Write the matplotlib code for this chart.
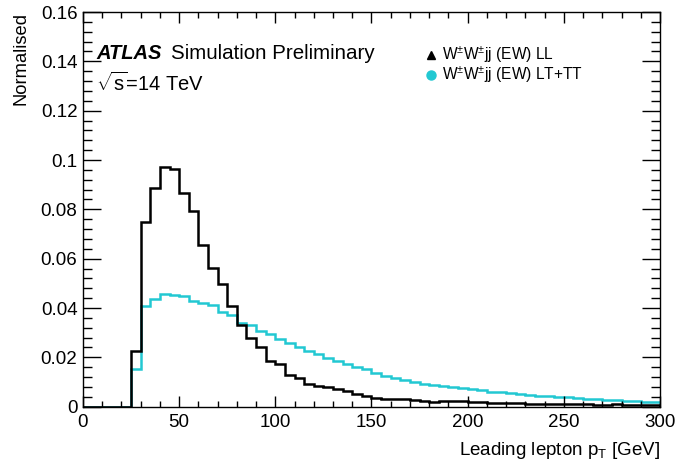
import numpy as np
import matplotlib
matplotlib.use("Agg")
import matplotlib.pyplot as plt
from matplotlib.ticker import MultipleLocator

plt.rcParams['font.family'] = ['Liberation Sans', 'DejaVu Sans']
plt.rcParams['mathtext.fontset'] = 'custom'
plt.rcParams['mathtext.rm'] = 'Liberation Sans'
plt.rcParams['mathtext.it'] = 'Liberation Sans:italic'
plt.rcParams['mathtext.bf'] = 'Liberation Sans:bold'

# bin edges (GeV)
bin_edges = np.arange(0, 305, 5)

# W±W±jj (EW) LL
ll_values = [0, 0, 0, 0, 0,
             0.0227, 0.0749, 0.0886, 0.0973, 0.0962,
             0.0866, 0.0795, 0.0656, 0.0562, 0.0499,
             0.0407, 0.0332, 0.0278, 0.0244, 0.0185,
             0.0172, 0.0129, 0.0116, 0.0092, 0.0085,
             0.0079, 0.0072, 0.0062, 0.0052, 0.0043,
             0.0035, 0.0031, 0.0031, 0.0030, 0.0028,
             0.0025, 0.0018, 0.0022, 0.0025, 0.0023,
             0.0020, 0.0019, 0.0017, 0.0015, 0.0014,
             0.0016, 0.0012, 0.0012, 0.0010, 0.0011,
             0.0009, 0.0009, 0.0010, 0.0008, 0.0007,
             0.0009, 0.0008, 0.0007, 0.0006, 0.0007]

# W±W±jj (EW) LT+TT
lt_values = [0, 0, 0, 0, 0,
             0.0153, 0.0409, 0.0436, 0.0455, 0.0451,
             0.0447, 0.0427, 0.0422, 0.0413, 0.0384,
             0.0371, 0.0338, 0.0330, 0.0308, 0.0294,
             0.0275, 0.0258, 0.0240, 0.0226, 0.0212,
             0.0198, 0.0184, 0.0172, 0.0162, 0.0152,
             0.0138, 0.0126, 0.0116, 0.0107, 0.0100,
             0.0093, 0.0088, 0.0083, 0.0079, 0.0076,
             0.0072, 0.0066, 0.0061, 0.0058, 0.0055,
             0.0051, 0.0047, 0.0045, 0.0042, 0.0041,
             0.0039, 0.0036, 0.0033, 0.0030, 0.0028,
             0.0026, 0.0024, 0.0023, 0.0021, 0.0020]

labels = [r"W$^{\pm}$W$^{\pm}$jj (EW) LL", r"W$^{\pm}$W$^{\pm}$jj (EW) LT+TT"]
ytick_labels = ['0', '0.02', '0.04', '0.06', '0.08', '0.1', '0.12', '0.14', '0.16']
cyan = '#22c8d2'

fig = plt.figure(figsize=(6.79, 4.62), dpi=100)
ax = fig.add_axes([0.1222, 0.1197, 0.8498, 0.8543])

ax.stairs(lt_values, bin_edges, color=cyan, lw=1.8, baseline=0)
ax.stairs(ll_values, bin_edges, color='black', lw=1.8, baseline=0)

ax.set_xlim(0, 300)
ax.set_ylim(0, 0.16)
ax.xaxis.set_major_locator(MultipleLocator(50))
ax.xaxis.set_minor_locator(MultipleLocator(10))
ax.yaxis.set_minor_locator(MultipleLocator(0.004))
ax.set_yticks(np.arange(0, 0.161, 0.02))
ax.set_yticklabels(ytick_labels)

ax.tick_params(which='both', direction='in', top=True, right=True, labelsize=13.5)
ax.tick_params(axis='x', which='major', length=8, width=1, pad=5)
ax.tick_params(axis='x', which='minor', length=4, width=1)
ax.tick_params(axis='y', which='major', length=13, width=1, pad=4)
ax.tick_params(axis='y', which='minor', length=6.5, width=1)
for s in ax.spines.values():
    s.set_linewidth(1.0)

ax.set_xlabel(r"Leading lepton p$_{\mathrm{T}}$ [GeV]", fontsize=13.5, loc='right', labelpad=7)
ax.set_ylabel("Normalised", fontsize=13.2, loc='top', labelpad=8)

ax.text(0.0225, 0.894, "ATLAS", transform=ax.transAxes, fontsize=14.5,
        fontweight='bold', fontstyle='italic', va='center', ha='left')
ax.text(0.152, 0.894, "Simulation Preliminary", transform=ax.transAxes,
        fontsize=14.8, va='center', ha='left')
ax.text(0.0225, 0.82, r"$\sqrt{\mathrm{s}}$=14 TeV", transform=ax.transAxes,
        fontsize=14.5, va='center', ha='left')

ax.plot([0.603], [0.891], marker='^', color='black', ms=6, ls='none',
        transform=ax.transAxes, clip_on=False)
ax.plot([0.603], [0.840], marker='o', color=cyan, ms=6.5, ls='none',
        transform=ax.transAxes, clip_on=False)
ax.text(0.622, 0.891, labels[0], transform=ax.transAxes, fontsize=11.2,
        va='center', ha='left')
ax.text(0.622, 0.840, labels[1], transform=ax.transAxes, fontsize=11.2,
        va='center', ha='left')

fig.savefig("out.png", dpi=100)
